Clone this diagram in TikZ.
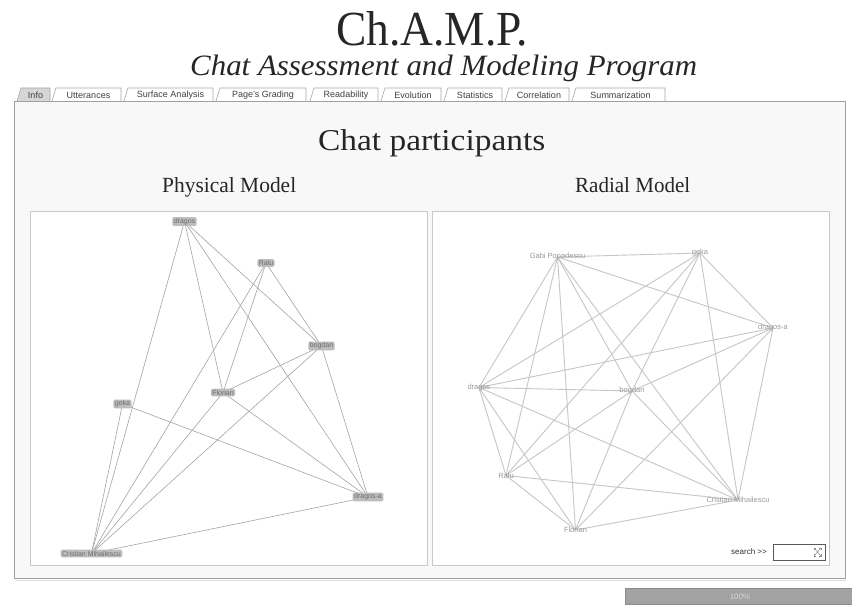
\documentclass[tikz,border=0pt]{standalone}
\usepackage{fontspec}
\setmainfont{Liberation Serif}
\setsansfont{Liberation Sans}
\definecolor{edgeL}{HTML}{A4A4A4}
\definecolor{edgeR}{HTML}{C6C6C6}
\definecolor{panelB}{HTML}{C8C8C8}
\definecolor{boxB}{HTML}{A0A0A0}
\definecolor{contentF}{HTML}{F8F8F8}
\definecolor{tabB}{HTML}{A8A8A8}
\definecolor{tabActive}{HTML}{D6D6D6}
\definecolor{tabT}{HTML}{404040}
\definecolor{labfill}{HTML}{BDBDBD}
\definecolor{labtext}{HTML}{6E6E6E}
\definecolor{rlabtext}{HTML}{9A9A9A}
\definecolor{barF}{HTML}{A2A2A2}
\definecolor{barB}{HTML}{8C8C8C}
\definecolor{barT}{HTML}{D8D8D8}
\definecolor{headT}{HTML}{262626}
\pgfdeclarelayer{bg}
\pgfsetlayers{bg,main}
\begin{document}
\begin{tikzpicture}[x=1pt,y=-1pt,
  ledge/.style={draw=edgeL,line width=0.6pt},
  redge/.style={draw=edgeR,line width=0.9pt},
  lnode/.style={fill=labfill,rounded corners=1.5pt,inner xsep=1.5pt,inner ysep=1.2pt,font=\sffamily\fontsize{7}{8}\selectfont,text=labtext},
  rnode/.style={inner sep=1pt,font=\sffamily\fontsize{7.5}{8}\selectfont,text=rlabtext},
  tabbox/.style={draw=tabB,fill=white,line width=0.6pt},
  tabtext/.style={font=\sffamily\fontsize{9}{10}\selectfont,text=tabT,inner sep=0pt},
  panel/.style={draw=panelB,fill=white,line width=1pt},
  heading/.style={inner sep=0pt,anchor=base west,text=headT}]
\useasboundingbox (0,0) rectangle (852,610);

\begin{pgfonlayer}{bg}
  \fill[white] (0,0) rectangle (852,610);
  \draw[draw=black!12,line width=1pt] (15,580) -- (846,580);
  \draw[draw=boxB,fill=contentF,line width=0.8pt] (14,101) rectangle (845,578);
  \draw[panel] (30,211) rectangle (427,565);
  \draw[panel] (432,211) rectangle (829,565);
\end{pgfonlayer}

% tabs
\draw[tabbox,fill=tabActive] (17,101) -- (21,88) -- (50,88) -- (50,101);
\node[tabtext] (tabInfo) at (35.5,95) {Info};
\foreach \xa/\xb/\t/\n in {52/121/Utterances/Utt,124/213/Surface Analysis/Sur,216/306/Page's Grading/Pag,310/378/Readability/Rea,381/441/Evolution/Evo,444/502/Statistics/Sta,505/569/Correlation/Cor,572/665/Summarization/Sum}{
  \draw[tabbox] (\xa,101) -- (\xa+4,88) -- (\xb,88) -- (\xb,101);
  \node[tabtext] (tab\n) at ({(\xa+4+\xb)/2},95) {\t};
}

% headings
\node[heading] (title) at (336,46) {\resizebox{192pt}{34pt}{Ch.A.M.P.}};
\node[heading] (subtitle) at (190,75) {\resizebox{507pt}{20.5pt}{\itshape Chat Assessment and Modeling Program}};
\node[heading] (cp) at (318,150) {\resizebox{227pt}{21pt}{Chat participants}};
\node[heading] (pm) at (162,192) {\resizebox{134pt}{15pt}{Physical Model}};
\node[heading] (rm) at (575,192) {\resizebox{115pt}{15pt}{Radial Model}};

% physical model nodes
\node[lnode] (Ldragos) at (184.5,221.5) {dragos};
\node[lnode] (Lralu) at (266,263) {Ralu};
\node[lnode] (Lbogdan) at (321.5,346) {bogdan};
\node[lnode] (Lflorian) at (223,392.5) {Florian};
\node[lnode] (Lgeka) at (122.5,404) {geka};
\node[lnode] (Ldragosa) at (368,497) {dragos-a};
\node[lnode] (Lcristian) at (91.5,553.5) {Cristian Mihailescu};

% radial model nodes
\node[rnode] (Rgabi) at (557.5,257) {Gabi Popadescu};
\node[rnode] (Rgeka) at (700,253) {geka};
\node[rnode] (Rdragosa) at (773,328) {dragos-a};
\node[rnode] (Rdragos) at (479,387.5) {dragos};
\node[rnode] (Rbogdan) at (632,391) {bogdan};
\node[rnode] (Rralu) at (506,475.5) {Ralu};
\node[rnode] (Rflorian) at (575.5,530) {Florian};
\node[rnode] (Rcristian) at (738,500) {Cristian Mihailescu};

\begin{pgfonlayer}{bg}
  \foreach \a/\b in {Ldragos/Lcristian,Ldragos/Lflorian,Ldragos/Ldragosa,Ldragos/Lbogdan,
    Lralu/Lbogdan,Lralu/Lflorian,Lralu/Lcristian,Lbogdan/Lflorian,Lbogdan/Lcristian,
    Lbogdan/Ldragosa,Lflorian/Ldragosa,Lflorian/Lcristian,Lgeka/Ldragosa,Lgeka/Lcristian,
    Ldragosa/Lcristian}
    \draw[ledge] (\a.center) -- (\b.center);
  \foreach \a/\b in {Rgabi/Rgeka,Rgabi/Rdragosa,Rgabi/Rdragos,Rgabi/Rralu,Rgabi/Rflorian,
    Rgabi/Rbogdan,Rgabi/Rcristian,Rgeka/Rdragosa,Rgeka/Rdragos,Rgeka/Rralu,Rgeka/Rbogdan,
    Rgeka/Rcristian,Rdragosa/Rdragos,Rdragosa/Rbogdan,Rdragosa/Rflorian,Rdragosa/Rcristian,
    Rdragos/Rbogdan,Rdragos/Rralu,Rdragos/Rflorian,Rdragos/Rcristian,Rbogdan/Rralu,
    Rbogdan/Rflorian,Rbogdan/Rcristian,Rralu/Rflorian,Rralu/Rcristian,Rflorian/Rcristian}
    \draw[redge] (\a.center) -- (\b.center);
\end{pgfonlayer}

% search
\node[font=\sffamily\fontsize{8}{9}\selectfont,text=black!80,anchor=east,inner sep=0pt] (search) at (767,552) {search {>}{>}};
\draw[draw=black!65,fill=white,line width=0.6pt] (773,544) rectangle (825,560);
\begin{scope}[draw=black!45,line width=0.5pt]
  \draw (814,548) -- (821,556) (814,556) -- (821,548);
  \draw (814,550) -- (814,548) -- (816,548) (819,548) -- (821,548) -- (821,550)
        (814,554) -- (814,556) -- (816,556) (819,556) -- (821,556) -- (821,554);
\end{scope}

% progress bar
\draw[fill=barF,draw=barB,line width=0.6pt] (625,588) rectangle (853,604);
\node[font=\sffamily\fontsize{8}{9}\selectfont,text=barT,inner sep=0pt] (pct) at (740,596.5) {100\%};
\end{tikzpicture}
\end{document}
